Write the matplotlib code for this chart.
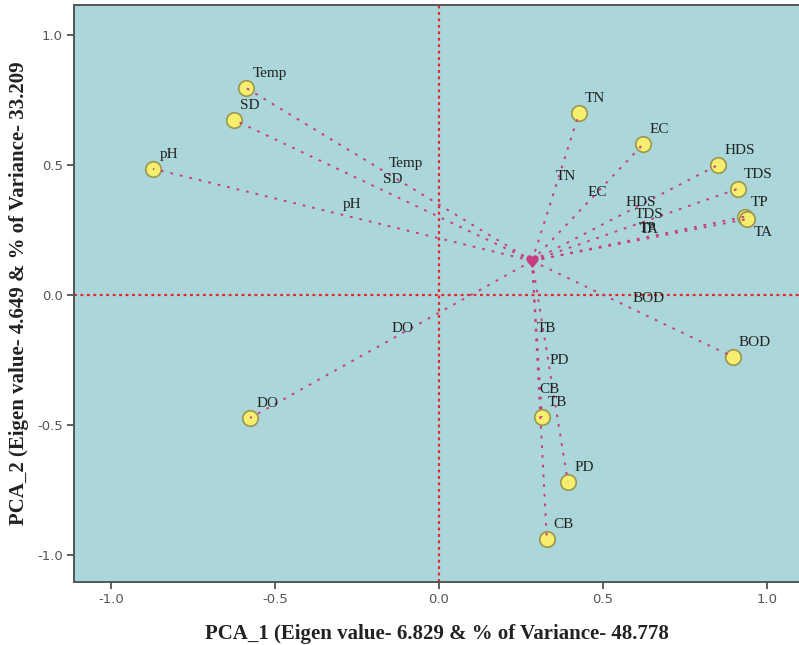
import matplotlib.pyplot as plt
import numpy as np

# component loadings of each water quality parameter
variables = ['Temp', 'SD', 'pH', 'TN', 'EC', 'HDS', 'TDS', 'TP', 'TA',
             'BOD', 'DO', 'TB', 'PD', 'CB']
pc1 = [-0.588, -0.625, -0.872, 0.427, 0.622, 0.851, 0.911, 0.932, 0.940,
       0.896, -0.576, 0.314, 0.393, 0.329]
pc2 = [0.796, 0.673, 0.485, 0.698, 0.579, 0.500, 0.408, 0.301, 0.292,
       -0.238, -0.473, -0.469, -0.719, -0.938]
# point the vectors are drawn from
centre = (0.284, 0.131)

xlab = 'PCA_1 (Eigen value- 6.829 & % of Variance- 48.778'
ylab = 'PCA_2 (Eigen value- 4.649 & % of Variance- 33.209'

bg = '#abd7da'
vec_col = '#c93c7f'
ref_col = '#e3272c'

fig = plt.figure(figsize=(7.99, 6.45), dpi=100)
ax = fig.add_axes([74 / 799, 1 - 582 / 645, 1 - 74 / 799, 577 / 645])
ax.set_facecolor(bg)
ax.set_xlim(-1.113, 1.098)
ax.set_ylim(-1.104, 1.115)

# reference lines through the origin
ax.axhline(0, color=ref_col, lw=1.6, ls=(0, (1.3, 1.6)), zorder=1)
ax.axvline(0, color=ref_col, lw=1.6, ls=(0, (1.3, 1.6)), zorder=1)

ax.scatter(pc1, pc2, s=125, c='#f6ee6e', edgecolors='#9a9650',
           linewidths=1.2, zorder=2)

serif = ['Liberation Serif', 'DejaVu Serif']
for name, x, y in zip(variables, pc1, pc2):
    ax.plot([centre[0], x], [centre[1], y], color=vec_col, lw=1.4,
            ls=(0, (1.4, 3.6)), zorder=3)
    mx, my = (centre[0] + x) / 2, (centre[1] + y) / 2
    ax.annotate(name, (mx, my), xytext=(0, 5), textcoords='offset points',
                ha='left', va='baseline', fontsize=11, family=serif,
                color='#222222', zorder=4)
    if name == 'TA':
        off, va = (5, -5), 'top'
    else:
        off, va = (4.5, 8), 'baseline'
    ax.annotate(name, (x, y), xytext=off, textcoords='offset points',
                ha='left', va=va, fontsize=11, family=serif,
                color='#222222', zorder=4)

ax.plot(*centre, marker='$\u2665$', ms=8, color=vec_col, zorder=5)

ax.set_xticks([-1.0, -0.5, 0.0, 0.5, 1.0])
ax.set_yticks([-1.0, -0.5, 0.0, 0.5, 1.0])
ax.xaxis.set_major_formatter(plt.FormatStrFormatter('%.1f'))
ax.yaxis.set_major_formatter(plt.FormatStrFormatter('%.1f'))
ax.tick_params(length=5, width=1.2, color='#444444', labelcolor='#555555',
               labelsize=9.5, pad=3)
for s in ['left', 'bottom', 'top']:
    ax.spines[s].set_color('#555555')
    ax.spines[s].set_linewidth(1.4)
ax.spines['right'].set_visible(False)

ax.set_xlabel(xlab, family=serif, fontweight='bold', fontsize=15,
              color='#222222', labelpad=13)
ax.set_ylabel(ylab, family=serif, fontweight='bold', fontsize=15,
              color='#222222', labelpad=6)

fig.savefig('out.png', dpi=100)
